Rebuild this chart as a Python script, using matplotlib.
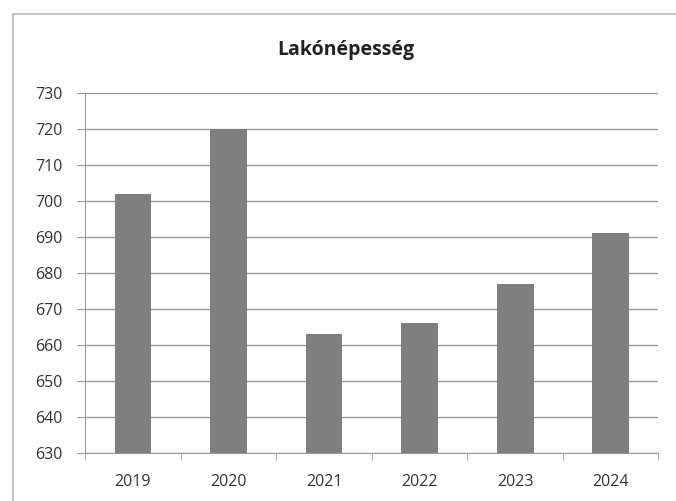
import numpy as np
import matplotlib
matplotlib.use("Agg")
import matplotlib.pyplot as plt
from matplotlib.patches import Rectangle

# data
years = ["2019", "2020", "2021", "2022", "2023", "2024"]
population = [702, 720, 663, 666, 677, 691]
y_ticks = list(range(630, 731, 10))

plt.rcParams['font.family'] = ['Open Sans', 'DejaVu Sans']

fig = plt.figure(figsize=(6.76, 5.01), dpi=100)
ax = fig.add_axes([0.126, 0.096, 0.848, 0.718])

x = np.arange(len(years))
ax.bar(x, [p - 630 for p in population], bottom=630, width=0.385,
       color="#7f7f7f", zorder=3)

ax.set_xlim(-0.5, len(years) - 0.5)
ax.set_ylim(630, 730)
ax.set_yticks(y_ticks)
ax.set_xticks(x)
ax.set_xticklabels(years)
ax.set_xticks(np.arange(len(years) + 1) - 0.5, minor=True)

ax.grid(axis="y", color="#9a9a9a", linewidth=1.0, zorder=0)
ax.tick_params(axis="y", length=6, color="#9a9a9a", labelsize=11.5,
               labelcolor="#333333", pad=10)
ax.tick_params(axis="x", which="major", length=0, labelsize=11.5,
               labelcolor="#333333", pad=15)
ax.tick_params(axis="x", which="minor", length=5, color="#9a9a9a")

for side in ["top", "right"]:
    ax.spines[side].set_visible(False)
for side in ["left", "bottom"]:
    ax.spines[side].set_color("#9a9a9a")

fig.text(0.512, 0.9, "Lakónépesség", ha="center", va="center",
         fontsize=14, fontweight="bold", color="#222222")

# outer chart frame (right and bottom edges run off the picture)
fig.patches.append(Rectangle((0.019, -0.1), 1.2, 1.072,
                             transform=fig.transFigure, fill=False,
                             edgecolor="#c4c4c4", linewidth=1.5))

fig.savefig("out.png", dpi=100)
